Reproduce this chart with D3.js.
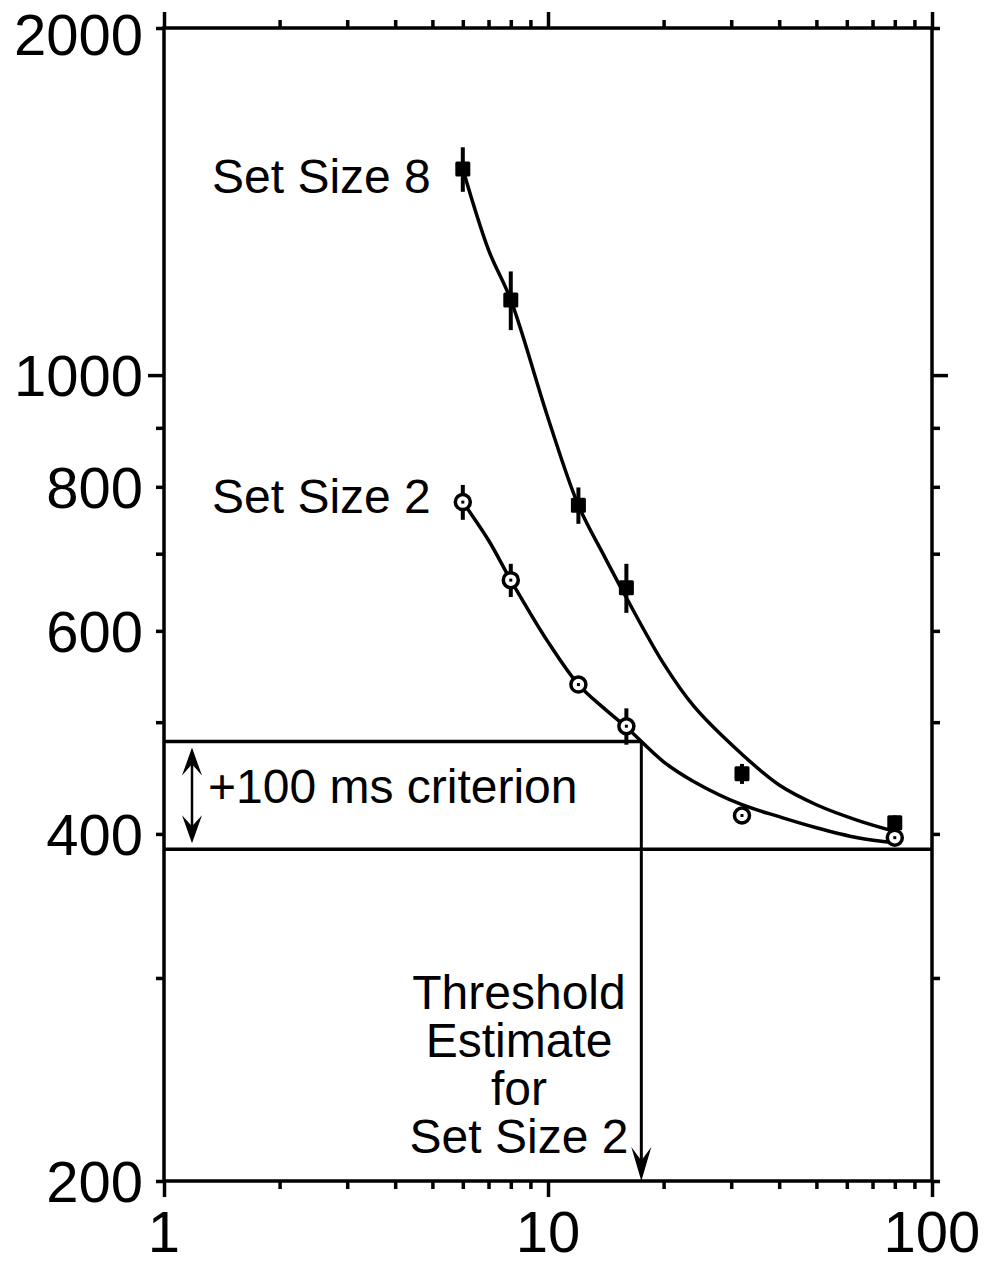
<!DOCTYPE html>
<html>
<head>
<meta charset="utf-8">
<script src="https://cdn.jsdelivr.net/npm/d3@7"></script>
<style>
  html, body { margin: 0; padding: 0; background: #fff; }
  svg { display: block; font-family: "Liberation Sans", Arial, sans-serif; }
</style>
</head>
<body>
<div id="chart"></div>
<script>
// data
var setSizes = [6, 8, 12, 16, 32, 80];
var rt8 = [1509, 1162, 771, 654, 451, 409];
var err8 = [67, 68, 28, 32, 9, 6];
var rt2 = [776, 664, 539, 496, 415, 397];
var err2 = [27, 22, 6, 18, 4, 3];

// fitted curves
var curveX = [6, 7, 8, 10, 12, 14, 16, 20, 24, 32, 40, 50, 64, 80];
var fit8 = [1509, 1284, 1162, 918, 771, 697, 641, 562, 516, 469, 441, 424, 411, 402];
var fit2 = [776, 719, 664, 587, 539, 514, 495, 462, 444, 424, 414, 405, 397, 393];

var baseRT = 388;      // asymptote line
var criterionRT = 481; // +100 ms criterion
var threshold2 = 17.5; // threshold estimate set size 2

var yTickLabels = [200, 400, 600, 800, 1000, 2000];
var yTicks = [200, 300, 400, 500, 600, 700, 800, 900, 1000, 2000];
var xTickLabels = [1, 10, 100];
var xTicks = [1, 2, 3, 4, 5, 6, 7, 8, 9, 10, 20, 30, 40, 50, 60, 70, 80, 90, 100];

var W = 992, H = 1266;
var pL = 164, pR = 932, pT = 28, pB = 1181;

var svg = d3.select("#chart").append("svg")
    .attr("width", W)
    .attr("height", H);

var x = d3.scaleLog().domain([1, 100]).range([pL, pR]);
var y = d3.scaleLog().domain([200, 2000]).range([pB, pT]);

function isMajor(v) { return Math.abs(Math.log10(v) - Math.round(Math.log10(v))) < 1e-9; }

// axes (ticks only, frame drawn below)
var gB = svg.append("g").attr("transform", "translate(0," + pB + ")")
    .call(d3.axisBottom(x).tickValues(xTicks).tickSize(8).tickFormat(""));
var gT = svg.append("g").attr("transform", "translate(0," + pT + ")")
    .call(d3.axisTop(x).tickValues(xTicks).tickSize(8).tickFormat(""));
var gL = svg.append("g").attr("transform", "translate(" + pL + ",0)")
    .call(d3.axisLeft(y).tickValues(yTicks).tickSize(8).tickFormat(""));
var gR = svg.append("g").attr("transform", "translate(" + pR + ",0)")
    .call(d3.axisRight(y).tickValues(yTicks).tickSize(8).tickFormat(""));

[gB, gT, gL, gR].forEach(function(g) {
    g.select(".domain").remove();
    g.selectAll(".tick line").attr("stroke", "#000").attr("stroke-width", 3.5);
});
gB.selectAll(".tick line").filter(d => isMajor(d)).attr("y2", 16);
gT.selectAll(".tick line").filter(d => isMajor(d)).attr("y2", -16);
gL.selectAll(".tick line").filter(d => d === 1000).attr("x2", -16);
gR.selectAll(".tick line").filter(d => d === 1000).attr("x2", 16);

// frame
svg.append("rect")
    .attr("x", pL).attr("y", pT)
    .attr("width", pR - pL).attr("height", pB - pT)
    .attr("fill", "none").attr("stroke", "#000").attr("stroke-width", 3.5);

// tick labels (kept inside the page edges)
svg.selectAll("text.ylab")
    .data(yTickLabels)
    .enter().append("text")
    .attr("class", "ylab")
    .attr("x", 143)
    .attr("y", d => Math.max(y(d), 34))
    .attr("dy", "0.36em")
    .attr("text-anchor", "end")
    .attr("font-size", "58px")
    .text(d => d);

svg.selectAll("text.xlab")
    .data(xTickLabels)
    .enter().append("text")
    .attr("class", "xlab")
    .attr("x", d => x(d))
    .attr("y", 1252)
    .attr("text-anchor", "middle")
    .attr("font-size", "58px")
    .text(d => d);

// criterion lines
svg.append("line")
    .attr("x1", pL).attr("x2", pR)
    .attr("y1", y(baseRT)).attr("y2", y(baseRT))
    .attr("stroke", "#000").attr("stroke-width", 3.5);
svg.append("line")
    .attr("x1", pL).attr("x2", x(threshold2))
    .attr("y1", y(criterionRT)).attr("y2", y(criterionRT))
    .attr("stroke", "#000").attr("stroke-width", 3.5);
svg.append("line")
    .attr("x1", x(threshold2)).attr("x2", x(threshold2))
    .attr("y1", y(criterionRT)).attr("y2", pB - 20)
    .attr("stroke", "#000").attr("stroke-width", 3);

function arrowHead(tx, ty, dir, len, half) {
    // dir: 1 pointing down, -1 pointing up
    var b = ty - dir * len, n = ty - dir * len * 0.6;
    return "M" + tx + "," + ty + "L" + (tx - half) + "," + b +
        "L" + tx + "," + n + "L" + (tx + half) + "," + b + "Z";
}
svg.append("path")
    .attr("d", arrowHead(x(threshold2), pB, 1, 34, 10))
    .attr("fill", "#000");

// double arrow for +100 ms
var ax = 192;
var aTop = y(criterionRT) + 6, aBot = y(baseRT) - 6;
svg.append("line")
    .attr("x1", ax).attr("x2", ax)
    .attr("y1", aTop + 15).attr("y2", aBot - 15)
    .attr("stroke", "#000").attr("stroke-width", 2.5);
svg.append("path").attr("d", arrowHead(ax, aTop, -1, 28, 10)).attr("fill", "#000");
svg.append("path").attr("d", arrowHead(ax, aBot, 1, 28, 10)).attr("fill", "#000");

// fitted curves
var line = d3.line()
    .x(d => x(d[0]))
    .y(d => y(d[1]))
    .curve(d3.curveCatmullRom.alpha(0.5));

svg.append("path")
    .datum(curveX.map((v, i) => [v, fit8[i]]))
    .attr("d", line)
    .attr("fill", "none").attr("stroke", "#000").attr("stroke-width", 3.5);
svg.append("path")
    .datum(curveX.map((v, i) => [v, fit2[i]]))
    .attr("d", line)
    .attr("fill", "none").attr("stroke", "#000").attr("stroke-width", 3.5);

// error bars
function errBars(vals, errs, cls) {
    svg.selectAll("line." + cls)
        .data(setSizes)
        .enter().append("line")
        .attr("class", cls)
        .attr("x1", d => x(d)).attr("x2", d => x(d))
        .attr("y1", (d, i) => y(vals[i] + errs[i]))
        .attr("y2", (d, i) => y(vals[i] - errs[i]))
        .attr("stroke", "#000").attr("stroke-width", 4);
}
errBars(rt8, err8, "e8");
errBars(rt2, err2, "e2");

// set size 8: filled squares
svg.selectAll("rect.m8")
    .data(setSizes)
    .enter().append("rect")
    .attr("class", "m8")
    .attr("x", d => x(d) - 7.5)
    .attr("y", (d, i) => y(rt8[i]) - 7.5)
    .attr("width", 15).attr("height", 15)
    .attr("rx", 1.5)
    .attr("fill", "#000");

// set size 2: open circles with dot
svg.selectAll("circle.m2")
    .data(setSizes)
    .enter().append("circle")
    .attr("class", "m2")
    .attr("cx", d => x(d))
    .attr("cy", (d, i) => y(rt2[i]))
    .attr("r", 7.5)
    .attr("fill", "#fff").attr("stroke", "#000").attr("stroke-width", 3.5);
svg.selectAll("rect.d2")
    .data(setSizes)
    .enter().append("rect")
    .attr("class", "d2")
    .attr("x", d => x(d) - 1.5)
    .attr("y", (d, i) => y(rt2[i]) - 1.5)
    .attr("width", 3).attr("height", 3)
    .attr("fill", "#000");

// labels
svg.append("text")
    .attr("x", 212).attr("y", 193)
    .attr("font-size", "48px")
    .text("Set Size 8");
svg.append("text")
    .attr("x", 212).attr("y", 513)
    .attr("font-size", "48px")
    .text("Set Size 2");
svg.append("text")
    .attr("x", 208).attr("y", 803)
    .attr("font-size", "48px")
    .text("+100 ms criterion");

var threshLines = ["Threshold", "Estimate", "for", "Set Size 2"];
svg.selectAll("text.thr")
    .data(threshLines)
    .enter().append("text")
    .attr("class", "thr")
    .attr("x", 519)
    .attr("y", (d, i) => 1009 + i * 48)
    .attr("text-anchor", "middle")
    .attr("font-size", "48px")
    .text(d => d);
</script>
</body>
</html>
